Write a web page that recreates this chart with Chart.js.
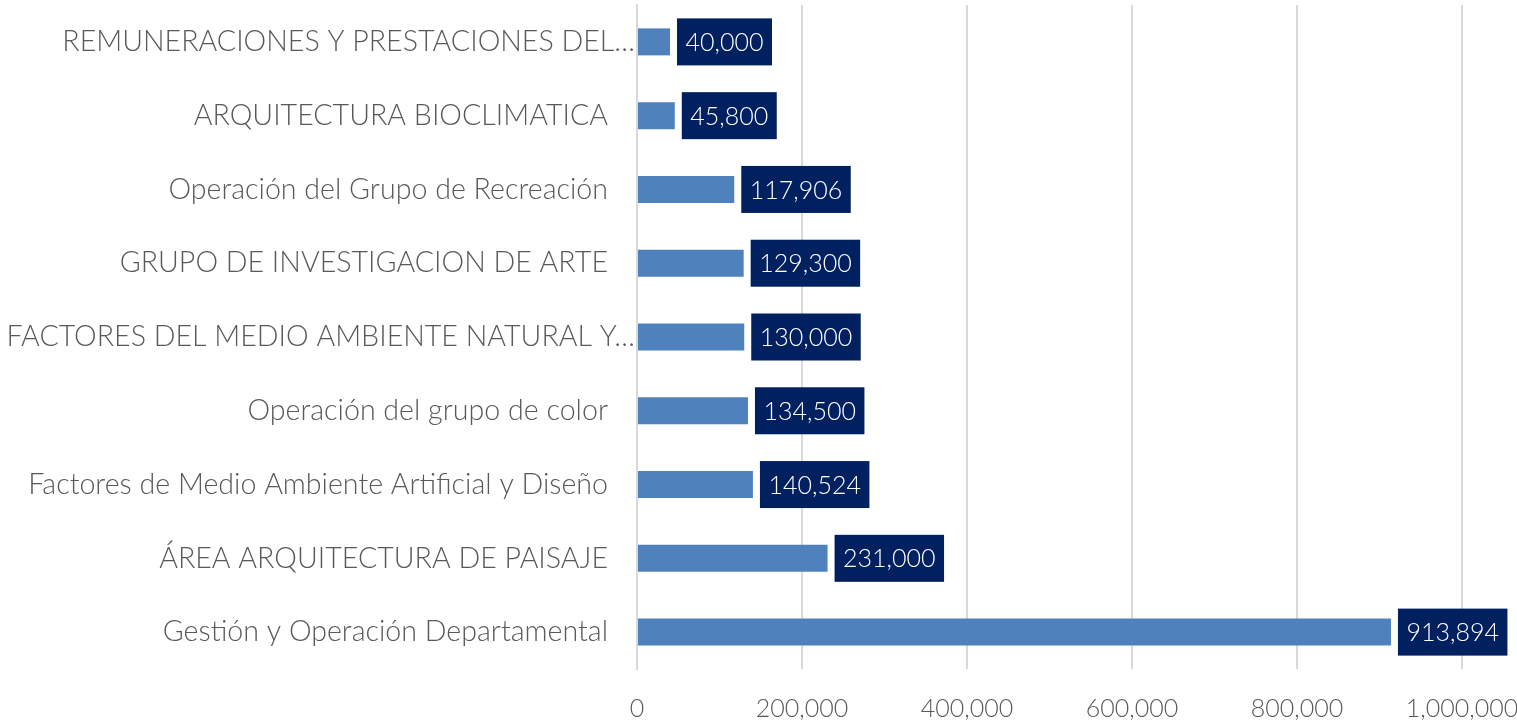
<!DOCTYPE html>
<html>
<head>
<meta charset="utf-8">
<script src="https://cdn.jsdelivr.net/npm/chart.js@4.4.1/dist/chart.umd.min.js"></script>
<style>
  html, body { margin: 0; padding: 0; background: #fff; }
  #wrap { width: 1517px; height: 728px; }
</style>
</head>
<body>
<div id="wrap"><canvas id="presupuestoChart"></canvas></div>
<script>
// ---------- datos ---------- //
const categorias = [
  "REMUNERACIONES Y PRESTACIONES DEL…",
  "ARQUITECTURA BIOCLIMATICA",
  "Operación del Grupo de Recreación",
  "GRUPO DE INVESTIGACION DE ARTE",
  "FACTORES DEL MEDIO AMBIENTE NATURAL Y…",
  "Operación del grupo de color",
  "Factores de Medio Ambiente Artificial y Diseño",
  "ÁREA ARQUITECTURA DE PAISAJE",
  "Gestión y Operación Departamental"
];
const montos = [40000, 45800, 117906, 129300, 130000, 134500, 140524, 231000, 913894];
const ejeX = { min: 0, max: 1000000, paso: 200000 };

const FUENTE = "Lato, 'Open Sans', sans-serif";
const TAM_CAT = 28.6; // etiquetas de categoria
const TAM_NUM = 25;   // numeros (eje x y cajas)
const PESO = 300;
const fmt = v => v.toLocaleString("en-US");

// etiquetas de categoria (alineadas a la derecha, las truncadas llegan hasta el eje)
const etiquetasY = {
  id: "etiquetasY",
  afterDraw(chart) {
    const { ctx } = chart;
    const y = chart.scales.y;
    const x0 = chart.chartArea.left;
    ctx.save();
    ctx.font = `${PESO} ${TAM_CAT}px ${FUENTE}`;
    ctx.fillStyle = "#595959";
    ctx.textAlign = "right";
    ctx.textBaseline = "middle";
    categorias.forEach((c, i) => {
      const px = c.endsWith("…") ? x0 - 2 : x0 - 29;
      ctx.fillText(c, px, y.getPixelForTick(i));
    });
    ctx.restore();
  }
};

// cajas con el valor al final de cada barra
const etiquetasValor = {
  id: "etiquetasValor",
  afterDatasetsDraw(chart) {
    const { ctx } = chart;
    const meta = chart.getDatasetMeta(0);
    ctx.save();
    ctx.font = `${PESO} ${TAM_NUM}px ${FUENTE}`;
    ctx.textAlign = "left";
    ctx.textBaseline = "middle";
    meta.data.forEach((bar, i) => {
      const txt = fmt(montos[i]);
      const w = ctx.measureText(txt).width;
      const bx = bar.x + 7;
      const bh = 47;
      ctx.fillStyle = "#002060";
      ctx.fillRect(bx, bar.y - bh / 2, w + 17, bh);
      ctx.fillStyle = "#ffffff";
      ctx.fillText(txt, bx + 8.5, bar.y + 1);
    });
    ctx.restore();
  }
};

const ctx = document.getElementById("presupuestoChart").getContext("2d");
new Chart(ctx, {
  type: "bar",
  data: {
    labels: categorias,
    datasets: [
      {
        label: "Monto",
        data: montos,
        backgroundColor: "#4f81bd",
        barPercentage: 0.366,
        categoryPercentage: 1
      }
    ]
  },
  options: {
    indexAxis: "y",
    responsive: true,
    maintainAspectRatio: false,
    animation: false,
    layout: { padding: { top: 5, right: 0, left: 0, bottom: 0 } },
    plugins: {
      legend: { display: false },
      tooltip: { enabled: false }
    },
    scales: {
      x: {
        min: ejeX.min,
        max: ejeX.max,
        grid: { color: "#d9d9d9", lineWidth: 2, drawTicks: false },
        border: { display: false },
        ticks: {
          stepSize: ejeX.paso,
          color: "#595959",
          padding: 25,
          maxRotation: 0,
          font: { family: FUENTE, size: TAM_NUM, weight: PESO },
          callback: v => fmt(v)
        },
        afterFit: s => {
          s.height = 59;
          s.paddingLeft = 0;
          s.paddingRight = 55;
        }
      },
      y: {
        grid: { display: false, drawTicks: false },
        border: { color: "#d9d9d9", width: 2 },
        ticks: { display: false },
        afterFit: s => { s.width = 637; }
      }
    }
  },
  plugins: [etiquetasY, etiquetasValor]
});
</script>
</body>
</html>
